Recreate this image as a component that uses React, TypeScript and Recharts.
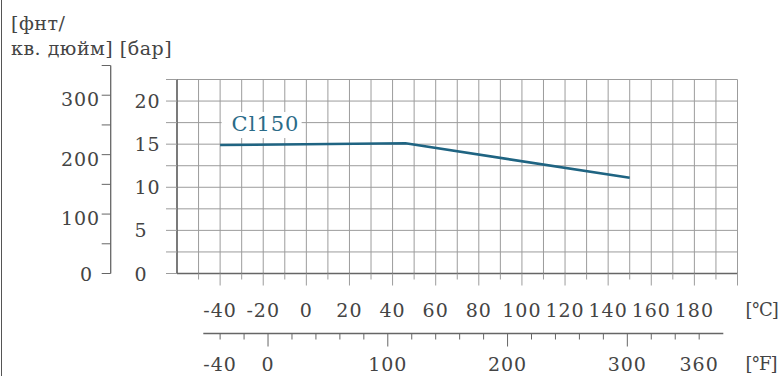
import { CartesianGrid, LabelList, Line, LineChart, XAxis, YAxis } from "recharts";

// pressure rating of the Cl150 flange vs process temperature
const tempC = [-40, 46, 150];
const ratingBar = [14.9, 15.1, 11.1];
const seriesName = "Cl150";

// axis ticks and labels
const cTicks = [-60, -50, -40, -30, -20, -10, 0, 10, 20, 30, 40, 50, 60, 70, 80, 90, 100, 110, 120, 130, 140, 150, 160, 170, 180, 190, 200];
const cLabels = [-40, -20, 0, 20, 40, 60, 80, 100, 120, 140, 160, 180];
const fTicks = [-40, -20, 0, 20, 40, 60, 80, 100, 120, 140, 160, 180, 200, 220, 240, 260, 280, 300, 320, 340, 360];
const fLabels = [-40, 0, 100, 200, 300, 360];
const fMajor = [0, 100, 200, 300];
const barTicks = [0, 2.5, 5, 7.5, 10, 12.5, 15, 17.5, 20, 22.5];
const barLabels = [0, 5, 10, 15, 20];
const psiTicks = [0, 50, 100, 150, 200, 250, 300, 350];
const psiLabels = [0, 100, 200, 300];

const toF = (c: number) => (c * 9) / 5 + 32;

const data = tempC.map((t, i) => ({ t, f: toF(t), bar: ratingBar[i] }));

const W = 781;
const H = 376;
const font = "'DejaVu Serif', serif";
const ink = "#444";
const grid = "#9c9c9c";
const axis = "#666";
const blue = "#1f6482";

const textStyle = { fontFamily: font, fontSize: 19, fill: ink, letterSpacing: 1 };

function CelsiusTick({ x, y, payload }: any) {
  const v = payload.value;
  return (
    <g>
      {v !== -60 && (
        <line x1={x} y1={y} x2={x} y2={y + (v % 20 === 0 ? 12 : 6)} stroke={grid} />
      )}
      {cLabels.includes(v) && (
        <text x={x} y={y + 43} textAnchor="middle" {...textStyle}>
          {v}
        </text>
      )}
    </g>
  );
}

function FahrenheitTick({ x, y, payload }: any) {
  const v = payload.value;
  return (
    <g>
      <line x1={x} y1={y} x2={x} y2={y + (fMajor.includes(v) ? 13 : 6)} stroke={axis} />
      {fLabels.includes(v) && (
        <text x={x} y={y + 37.5} textAnchor="middle" {...textStyle}>
          {v}
        </text>
      )}
    </g>
  );
}

function BarTick({ x, y, payload }: any) {
  const v = payload.value;
  return (
    <g>
      <line x1={x - 11} y1={y} x2={x} y2={y} stroke={grid} />
      {barLabels.includes(v) && (
        <text x={x - 42.5} y={y + 7} textAnchor="start" {...textStyle}>
          {v}
        </text>
      )}
    </g>
  );
}

function PsiTick({ x, y, payload }: any) {
  const v = payload.value;
  return (
    <g>
      <line x1={x - 9} y1={y} x2={x} y2={y} stroke={axis} />
      {psiLabels.includes(v) && (
        <text
          x={v === 0 ? x - 17.5 : x - 10.5}
          y={v === 0 ? y + 7 : y + 11}
          textAnchor="end"
          {...textStyle}
        >
          {v}
        </text>
      )}
    </g>
  );
}

function SeriesTag(props: any) {
  const { x, y, index } = props;
  if (index !== 0) return null;
  return (
    <g>
      <rect x={x + 1.5} y={y - 33} width={80} height={26} fill="#fff" />
      <text x={x + 11.5} y={y - 14} fontFamily={font} fontSize={21} fill="#2a6b88" letterSpacing={1}>
        {seriesName}
      </text>
    </g>
  );
}

const unitLabel = (text: string, dy: number) => (p: any) => {
  const vb = p.viewBox;
  return (
    <text
      x={vb.x + vb.width + 8}
      y={vb.y + dy}
      fontFamily={font}
      fontSize={18}
      fill={ink}
      letterSpacing={-1.2}
    >
      {text}
    </text>
  );
};

export default function App() {
  return (
    <div
      style={{
        position: "absolute",
        left: 0,
        top: 0,
        width: W,
        height: H,
        background: "#fff",
        fontFamily: font,
        overflow: "hidden",
      }}
    >
      <div style={{ position: "absolute", left: 1, top: 0, height: H, borderLeft: "1.5px solid #555" }} />
      <div
        style={{
          position: "absolute",
          left: 11,
          top: 11,
          fontSize: 19,
          lineHeight: "25px",
          color: ink,
          whiteSpace: "pre",
          letterSpacing: 0.5,
        }}
      >
        {"[фнт/\nкв. дюйм] [бар]"}
      </div>

      <div style={{ position: "absolute", left: 0, top: 0 }}>
        <LineChart width={W} height={H} data={data} margin={{ top: 79.5, right: 43.5, bottom: 2.5, left: 117 }}>
          <CartesianGrid xAxisId="c" yAxisId="bar" stroke={grid} strokeWidth={1} />
          <XAxis
            xAxisId="c"
            dataKey="t"
            type="number"
            domain={[-60, 200]}
            ticks={cTicks}
            interval={0}
            allowDataOverflow
            height={60}
            tickSize={0}
            tickMargin={0}
            tickLine={false}
            axisLine={{ stroke: axis, strokeWidth: 1.6 }}
            tick={<CelsiusTick />}
            label={unitLabel("[°C]", 42)}
          />
          <XAxis
            xAxisId="f"
            dataKey="f"
            type="number"
            domain={[toF(-60), toF(200)]}
            ticks={fTicks}
            interval={0}
            allowDataOverflow
            height={40}
            tickSize={0}
            tickMargin={0}
            tickLine={false}
            axisLine={{ stroke: axis, strokeWidth: 1.3, strokeDasharray: "0 26.3 520 600" }}
            tick={<FahrenheitTick />}
            label={unitLabel("[°F]", 36)}
          />
          <YAxis
            yAxisId="bar"
            type="number"
            domain={[0, 22.5]}
            ticks={barTicks}
            interval={0}
            allowDataOverflow
            width={60}
            tickSize={0}
            tickMargin={0}
            tickLine={false}
            axisLine={{ stroke: axis, strokeWidth: 1.6 }}
            tick={<BarTick />}
          />
          <Line
            xAxisId="c"
            yAxisId="bar"
            dataKey="bar"
            type="linear"
            stroke={blue}
            strokeWidth={2.6}
            dot={false}
            isAnimationActive={false}
          >
            <LabelList dataKey="bar" content={<SeriesTag />} />
          </Line>
        </LineChart>
      </div>

      <div style={{ position: "absolute", left: 0, top: 0, pointerEvents: "none" }}>
        <LineChart width={W} height={H} data={data} margin={{ top: 65.5, right: 43.5, bottom: 102.5, left: 50 }}>
          <XAxis dataKey="t" type="number" domain={[-60, 200]} hide />
          <YAxis
            type="number"
            domain={[0, 350]}
            ticks={psiTicks}
            interval={0}
            allowDataOverflow
            width={60.7}
            tickSize={0}
            tickMargin={0}
            tickLine={false}
            axisLine={{ stroke: axis, strokeWidth: 1.3 }}
            tick={<PsiTick />}
          />
        </LineChart>
      </div>
    </div>
  );
}
